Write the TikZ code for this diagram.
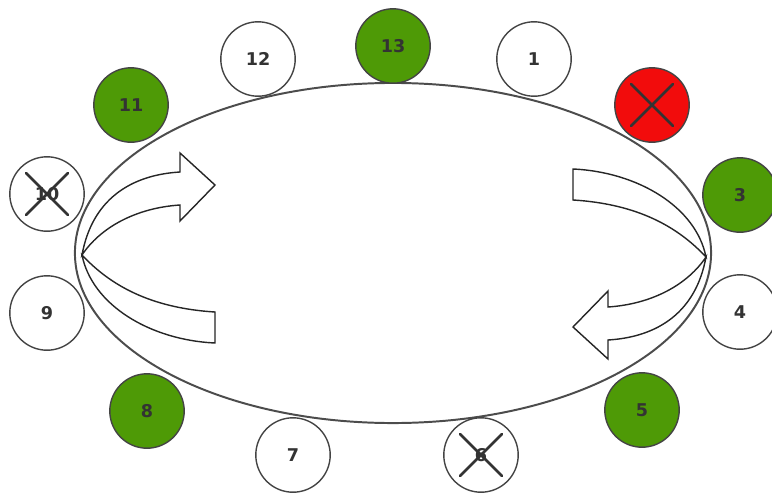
\documentclass[tikz,border=0pt]{standalone}
\usepackage{fontspec}
\setmainfont{DejaVu Sans}
\usepackage{tikz}

\definecolor{slotgreen}{HTML}{4E9A06}
\definecolor{slotred}{HTML}{F20C0C}
\definecolor{rim}{HTML}{444444}

\tikzset{
  slot/.style={circle, draw=rim, line width=1pt, fill=white, minimum size=1.86cm,
    inner sep=0pt, font=\fontsize{12.5}{14}\selectfont\bfseries, text=black!80},
  busy/.style={slot, fill=slotgreen},
  dead/.style={slot, fill=slotred},
  xmark/.style={line width=1.8pt, draw=black!80, line cap=round},
  band/.style={draw=black!85, line width=1pt, fill=white}
}

\begin{document}
\begin{tikzpicture}[x=0.025cm, y=-0.025cm]
    \useasboundingbox (0, 0) rectangle (772, 493);
    % ring
    \draw [draw=black!70, line width=1.4pt] (393, 253) ellipse [x radius=7.95cm, y radius=4.25cm];
    % left bands
    \draw [band] (82, 255) .. controls (92, 200) and (130, 175) .. (180, 172)
        -- (180, 153) -- (215, 185) -- (180, 221) -- (180, 205)
        .. controls (135, 208) and (100, 228) .. (82, 255) -- cycle;
    \draw [band] (82, 255) .. controls (110, 285) and (150, 308) .. (215, 312)
        -- (215, 343) .. controls (150, 340) and (92, 305) .. (82, 255) -- cycle;
    % right bands
    \begin{scope}[rotate around={180:(394, 256)}]
    \draw [band] (82, 255) .. controls (92, 200) and (130, 175) .. (180, 172)
        -- (180, 153) -- (215, 185) -- (180, 221) -- (180, 205)
        .. controls (135, 208) and (100, 228) .. (82, 255) -- cycle;
    \draw [band] (82, 255) .. controls (110, 285) and (150, 308) .. (215, 312)
        -- (215, 343) .. controls (150, 340) and (92, 305) .. (82, 255) -- cycle;
    \end{scope}
    % slots
    \node [slot] (s12) at (258, 59)  {12};
    \node [busy] (s13) at (393, 46)  {13};
    \node [slot] (s1)  at (534, 59)  {1};
    \node [dead] (s2)  at (652, 105) {};
    \node [busy] (s3)  at (740, 195) {3};
    \node [slot] (s4)  at (740, 312) {4};
    \node [busy] (s5)  at (642, 410) {5};
    \node [slot] (s6)  at (481, 455) {6};
    \node [slot] (s7)  at (293, 455) {7};
    \node [busy] (s8)  at (147, 411) {8};
    \node [slot] (s9)  at (47, 313)  {9};
    \node [slot] (s10) at (47, 194)  {10};
    \node [busy] (s11) at (131, 105) {11};
    % crossed out
    \foreach \s in {s2, s6, s10} {
      \draw [xmark] ([shift={(-21, -21)}]\s.center) -- ([shift={(21, 21)}]\s.center);
      \draw [xmark] ([shift={(-21, 21)}]\s.center) -- ([shift={(21, -21)}]\s.center);
    }
\end{tikzpicture}
\end{document}
